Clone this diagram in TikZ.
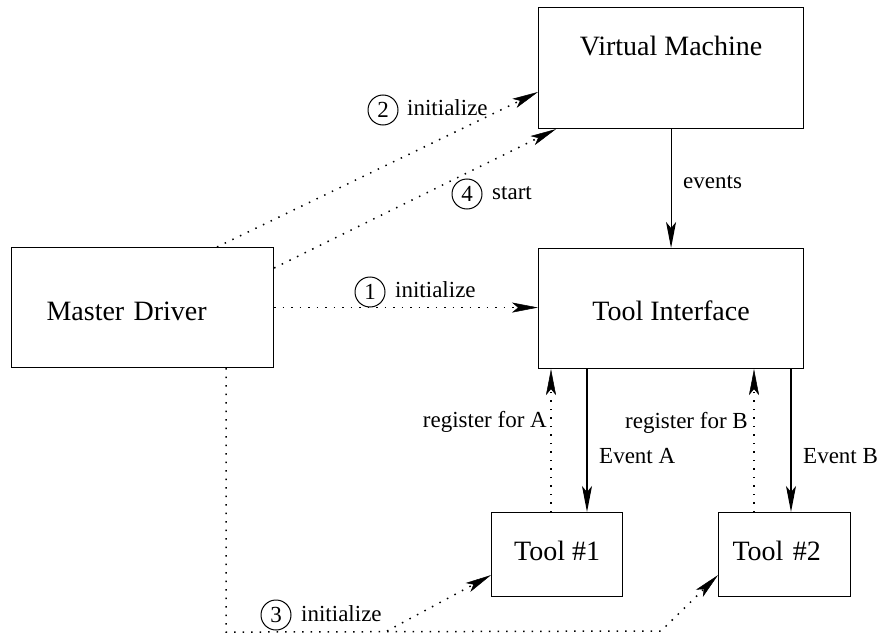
\documentclass[tikz,border=0pt]{standalone}
\usepackage{fontspec}
\setmainfont{Liberation Serif}
\usetikzlibrary{arrows.meta,calc}
\begin{document}
\begin{tikzpicture}[x=1pt,y=-1pt,
  box/.style={draw, line width=1.1pt, inner sep=0pt, anchor=north west, font=\fontsize{28}{34}\selectfont},
  lbl/.style={inner sep=0pt, font=\fontsize{23}{28}\selectfont},
  num/.style={draw, circle, line width=1pt, inner sep=0pt, minimum size=30pt, font=\fontsize{23}{28}\selectfont},
  solidarrow/.style={line width=1.1pt, -{Stealth[length=26pt,width=10pt,inset=6pt]}},
  dotarrow/.style={line width=1.5pt, dash pattern=on 1.5pt off 7pt, -{Stealth[length=26pt,width=10pt,inset=6pt,line width=0.5pt]}}]
\useasboundingbox (0,0) rectangle (881,634);
% boxes
\node[box, minimum width=265pt, text height=48pt, text depth=73pt] (vm) at (538,7) {Virtual Machine};
\node[box, minimum width=265pt, text height=72pt, text depth=48pt] (ti) at (538,248) {Tool Interface};
\node[box, text width=192pt, inner xsep=35pt, align=left, text height=73pt, text depth=47pt] (md) at (11,247) {Master Driver};
\node[box, minimum width=131pt, text height=48pt, text depth=36pt] (t1) at (491,512) {Tool \#1};
\node[box, text width=104pt, inner xsep=14pt, align=left, text height=48pt, text depth=36pt] (t2) at (718,512) {Tool \#2};
% coordinates
\coordinate (ea) at ($(t1.north west)+(96,0)$);
\coordinate (ra) at ($(t1.north west)+(60,0)$);
\coordinate (eb) at ($(t2.north west)+(73,0)$);
\coordinate (rb) at ($(t2.north west)+(36,0)$);
\coordinate (a2s) at ($(md.north west)+(206,0)$);
\coordinate (a2e) at ($(vm.north west)+(0,85)$);
\coordinate (a4s) at ($(md.north east)+(0,21)$);
\coordinate (a4e) at ($(vm.south west)+(18,0)$);
\coordinate (a3s) at ($(md.south west)+(215,0)$);
\coordinate (c1) at ($(md.south west)+(215,264)$);
\coordinate (c2) at (661,631);
\coordinate (b1) at (387,631);
\coordinate (t1in) at ($(t1.south west)+(0,-22)$);
\coordinate (t2in) at ($(t2.south west)+(0,-22)$);
% connectors
\draw[solidarrow] (vm.south) -- (ti.north);
\draw[solidarrow] (ea |- ti.south) -- (ea);
\draw[solidarrow] (eb |- ti.south) -- (eb);
\draw[dotarrow] (ra) -- (ra |- ti.south);
\draw[dotarrow] (rb) -- (rb |- ti.south);
\draw[dotarrow] (md.east) -- (md.east -| ti.west);
\draw[dotarrow] (a2s) -- (a2e);
\draw[dotarrow] (a4s) -- (a4e);
\draw[dotarrow] (a3s) -- (c1) -- (c2) -- (t2in);
\draw[dotarrow] (b1) -- (t1in);
% labels
\node[lbl, anchor=base west] (lev) at (683,188) {events};
\node[lbl, anchor=base west] (lea) at (599,463) {Event A};
\node[lbl, anchor=base west] (leb) at (803,463) {Event B};
\node[lbl, anchor=base east] (lra) at (547,427) {register for A};
\node[lbl, anchor=base east] (lrb) at (748,428) {register for B};
\node[num] (n2) at (383,110) {2};
\node[lbl, anchor=base west] (l2) at (407,115) {initialize};
\node[num] (n4) at (467,194) {4};
\node[lbl, anchor=base west] (l4) at (492,199) {start};
\node[num] (n1) at (370,292) {1};
\node[lbl, anchor=base west] (l1) at (395,297) {initialize};
\node[num] (n3) at (276,615) {3};
\node[lbl, anchor=base west] (l3) at (301,621) {initialize};
\end{tikzpicture}
\end{document}
